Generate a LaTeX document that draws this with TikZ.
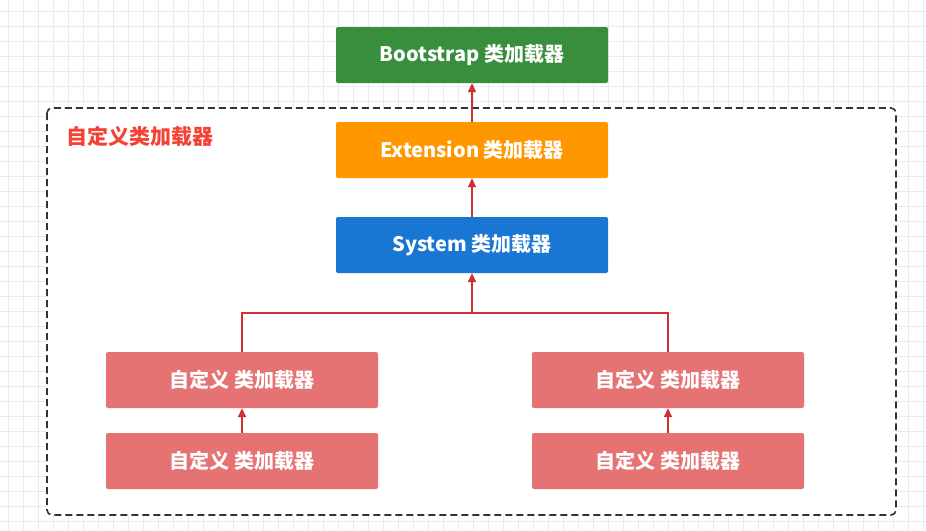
\documentclass[tikz,border=0pt]{standalone}
\usepackage{fontspec}
\setmainfont{Noto Sans CJK SC}
\usetikzlibrary{arrows.meta}
\definecolor{cgreen}{HTML}{388E3C}
\definecolor{corange}{HTML}{FF9800}
\definecolor{cblue}{HTML}{1976D2}
\definecolor{cpink}{HTML}{E57373}
\definecolor{carrow}{HTML}{D32F2F}
\definecolor{clabel}{HTML}{F44336}
\definecolor{cgrid}{HTML}{EBEBEB}
\definecolor{cdash}{HTML}{333333}
\tikzset{
  loader/.style={rectangle, rounded corners=2pt, minimum width=272pt, minimum height=56pt,
    inner sep=0pt, text=white, font=\fontsize{20}{24}\selectfont\bfseries},
  link/.style={draw=carrow, line width=1.8pt, -{Triangle[length=9pt,width=8pt]}},
  plainlink/.style={draw=carrow, line width=1.8pt},
}
\begin{document}
\begin{tikzpicture}[x=1pt,y=-1pt]
\useasboundingbox (0,0) rectangle (926,530);
\fill[white] (0,0) rectangle (926,530);
\foreach \gx in {8.3,23.3,...,926} \draw[cgrid, line width=0.8pt] (\gx,0) -- (\gx,530);
\foreach \gy in {11.7,26.7,...,530} \draw[cgrid, line width=0.8pt] (0,\gy) -- (926,\gy);
\draw[cdash, fill=white, line width=1.6pt, dash pattern=on 7pt off 4pt, rounded corners=5pt] (47,108) rectangle (896,515);
\node[anchor=west, text=clabel, font=\fontsize{21}{25}\selectfont\bfseries] (lbl) at (63,136) {自定义类加载器};
\node[loader, fill=cgreen] (boot) at (472,55) {Bootstrap 类加载器};
\node[loader, fill=corange] (ext) at (472,150) {Extension 类加载器};
\node[loader, fill=cblue] (sys) at (472,245) {System 类加载器};
\node[loader, fill=cpink] (c1) at (242,380) {自定义 类加载器};
\node[loader, fill=cpink] (c2) at (242,461) {自定义 类加载器};
\node[loader, fill=cpink] (c3) at (668,380) {自定义 类加载器};
\node[loader, fill=cpink] (c4) at (668,461) {自定义 类加载器};
\coordinate (j) at (472,313);
\draw[link] (ext) -- (boot);
\draw[link] (sys) -- (ext);
\draw[plainlink] (c1.north) |- (j) -| (c3.north);
\draw[link] (j) -- (sys);
\draw[link] (c2) -- (c1);
\draw[link] (c4) -- (c3);
\end{tikzpicture}
\end{document}
